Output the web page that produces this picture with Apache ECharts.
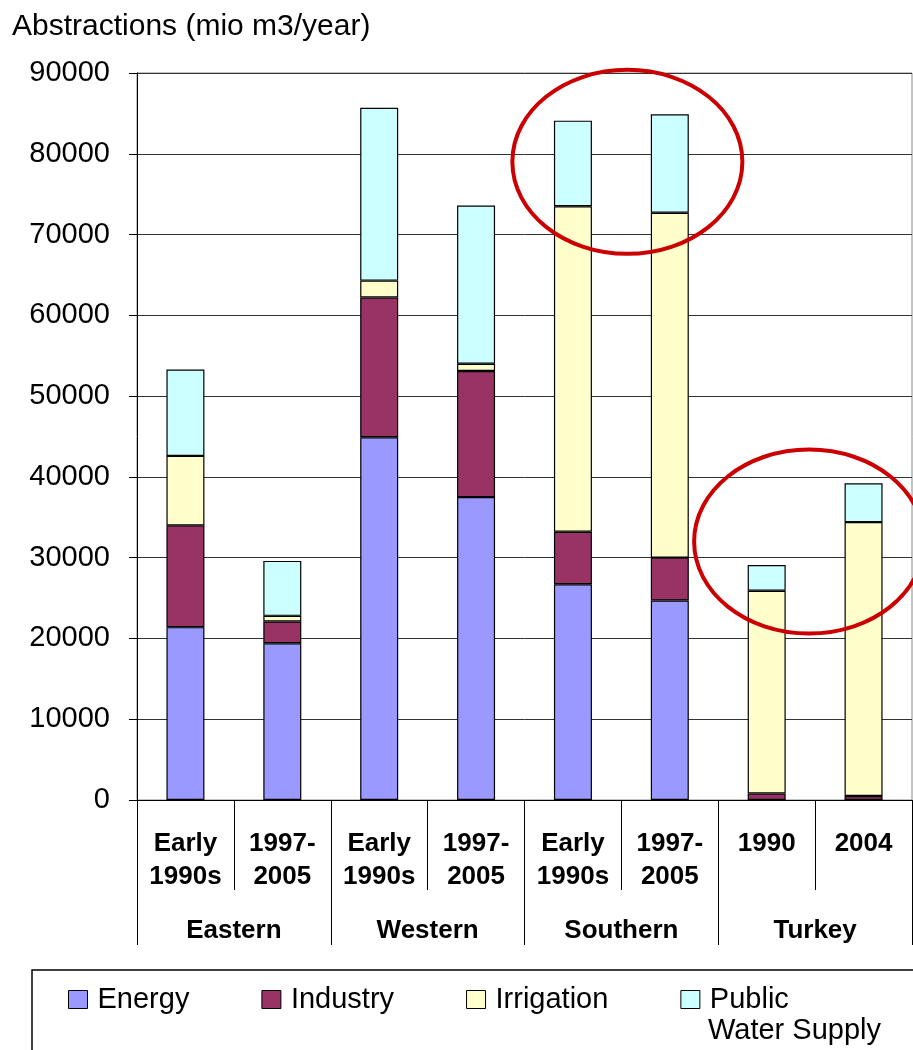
<!DOCTYPE html>
<html>
<head>
<meta charset="utf-8">
<script src="https://cdn.jsdelivr.net/npm/echarts@6/dist/echarts.min.js"></script>
<style>
  html, body { margin: 0; padding: 0; background: #fff; }
  #chart { width: 913px; height: 1050px; }
</style>
</head>
<body>
<div id="chart"></div>
<script>
const periods = ['Early\n1990s', '1997-\n2005', 'Early\n1990s', '1997-\n2005', 'Early\n1990s', '1997-\n2005', '1990', '2004']
const regions = ['Eastern', 'Western', 'Southern', 'Turkey']
const energy = [21400, 19400, 44900, 37500, 26700, 24700, 0, 0]
const industry = [12600, 2700, 17300, 15600, 6500, 5300, 800, 500]
const irrigation = [8600, 700, 2100, 900, 40300, 42700, 25100, 33900]
const publicSupply = [10700, 6800, 21400, 19600, 10600, 12200, 3200, 4800]

const font = '"Liberation Sans", Arial, sans-serif'
const chart = echarts.init(document.getElementById('chart'))

function bar(name, data, color) {
  return {
    name,
    type: 'bar',
    stack: 'total',
    data,
    barWidth: 38,
    itemStyle: { color, borderColor: '#000', borderWidth: 1.2 }
  }
}

const option = {
  animation: false,
  title: {
    text: 'Abstractions (mio m3/year)',
    left: 12,
    top: 12,
    padding: 0,
    textStyle: { fontFamily: font, fontSize: 30, fontWeight: 'normal', color: '#000' }
  },
  grid: {
    left: 137, right: 1, top: 73, bottom: 250,
    show: true, borderColor: '#888', borderWidth: 1
  },
  legend: {
    left: 68,
    top: 985,
    padding: 0,
    itemWidth: 19,
    itemHeight: 18,
    itemGap: 72,
    icon: 'rect',
    itemStyle: { borderColor: '#000', borderWidth: 1 },
    textStyle: { fontFamily: font, fontSize: 29, color: '#000', padding: [0, 0, 0, 5] },
    data: ['Energy', 'Industry', 'Irrigation', 'Public Water Supply'],
    formatter: n => n === 'Public Water Supply' ? 'Public' : n
  },
  xAxis: [
    {
      type: 'category',
      data: periods,
      axisLine: { lineStyle: { color: '#000', width: 1 } },
      axisTick: { show: true, interval: 0, length: 90, lineStyle: { color: '#000' } },
      axisLabel: {
        interval: 0, margin: 27, color: '#000', fontFamily: font,
        fontSize: 26, fontWeight: 'bold', lineHeight: 33
      }
    },
    {
      type: 'category',
      data: regions,
      position: 'bottom',
      axisLine: { show: false },
      axisTick: { show: true, interval: 0, length: 145, lineStyle: { color: '#000' } },
      axisLabel: {
        interval: 0, margin: 114, color: '#000', fontFamily: font,
        fontSize: 26, fontWeight: 'bold', lineHeight: 33
      }
    }
  ],
  yAxis: {
    type: 'value',
    min: 0,
    max: 90000,
    interval: 10000,
    axisLine: { show: true, lineStyle: { color: '#000' } },
    axisTick: { show: true, length: 8, lineStyle: { color: '#000' } },
    axisLabel: { margin: 27, color: '#000', fontFamily: font, fontSize: 29, formatter: v => String(v) },
    splitLine: { lineStyle: { color: '#333', width: 1 } }
  },
  series: [
    bar('Energy', energy, '#9999FF'),
    bar('Industry', industry, '#993366'),
    bar('Irrigation', irrigation, '#FFFFCC'),
    bar('Public Water Supply', publicSupply, '#CCFFFF')
  ]
}

chart.setOption(option)

// red ellipses round the Southern and Turkey tops, placed from data coordinates
function ring(i, j, value, shift) {
  const a = chart.convertToPixel({ gridIndex: 0 }, [i, value])
  const b = chart.convertToPixel({ gridIndex: 0 }, [j, value])
  return {
    type: 'ellipse',
    shape: { cx: (a[0] + b[0]) / 2 + shift, cy: a[1], rx: 115, ry: 92 },
    style: { fill: 'none', stroke: '#CC0000', lineWidth: 4 },
    z: 100
  }
}

chart.setOption({
  graphic: [
    {
      type: 'rect',
      shape: { x: 32, y: 970, width: 900, height: 100 },
      style: { fill: 'none', stroke: '#000', lineWidth: 1.5 }
    },
    {
      // second line of the "Public Water Supply" legend entry
      type: 'text',
      left: 708,
      top: 1016,
      style: { text: 'Water Supply', font: '29px "Liberation Sans", Arial, sans-serif', fill: '#000' }
    },
    ring(4, 5, 79000, 6),
    ring(6, 7, 32000, -6)
  ]
})
</script>
</body>
</html>
